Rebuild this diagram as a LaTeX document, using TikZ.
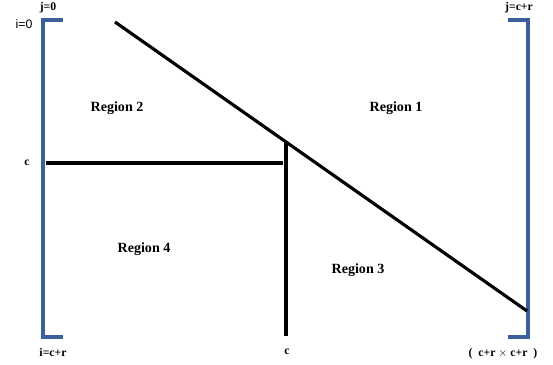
\documentclass[tikz,border=0pt]{standalone}
\usepackage{fontspec}
\setmainfont{Liberation Serif}
\newfontfamily\labelsans{Liberation Sans}
\usepackage{tikz}
\usetikzlibrary{calc}
\definecolor{bracketblue}{RGB}{58,95,155}

\begin{document}
\begin{tikzpicture}[
    x=0.03cm,
    y=-0.03cm,
    bracket/.style={draw=bracketblue, line width=2.7pt},
    split/.style={draw=black, line width=2.7pt},
    region/.style={font=\fontsize{12}{14}\selectfont\bfseries, inner sep=0pt},
    idx/.style={font=\fontsize{10}{12}\selectfont\bfseries, inner sep=0pt}
]
\useasboundingbox (0,0) rectangle (553,365);

% left bracket
\coordinate (ltop) at (63,20);
\coordinate (ltl) at (43,20);
\coordinate (lbl) at (43,337);
\coordinate (lbot) at (63,337);
\draw[bracket] (ltop) -- (ltl) -- (lbl) -- (lbot);

% right bracket
\coordinate (rtop) at (508,20);
\coordinate (rtr) at (528,20);
\coordinate (rbr) at (528,337);
\coordinate (rbot) at (508,337);
\draw[bracket] (rtop) -- (rtr) -- (rbr) -- (rbot);

% splitting lines
\coordinate (dstart) at (115,22);
\coordinate (dend) at (527,311);
\coordinate (hstart) at (46,163);
\coordinate (hend) at (283,163);
\coordinate (vtop) at (286,142);
\coordinate (vbot) at (286,336);
\draw[split] (dstart) -- (dend);
\draw[split] (hstart) -- (hend);
\draw[split] (vtop) -- (vbot);

% regions
\node[region] (reg1) at (396,108) {Region 1};
\node[region] (reg2) at (117,108) {Region 2};
\node[region] (reg3) at (358,270) {Region 3};
\node[region] (reg4) at (144,249) {Region 4};

% indices
\node[idx] (jzero) at (48,8) {j=0};
\node[font=\labelsans\fontsize{10.5}{12}\selectfont, inner sep=0pt] (izero) at (24,24) {i=0};
\node[idx] (jend) at (519,8) {j=c+r};
\node[idx] (crow) at (27,163) {c};
\node[idx] (iend) at (53,352) {i=c+r};
\node[idx] (ccol) at (287,352) {c};
\node[idx] (size) at (503,354) {(\enspace c+r $\times$ c+r\enspace)};
\end{tikzpicture}
\end{document}
